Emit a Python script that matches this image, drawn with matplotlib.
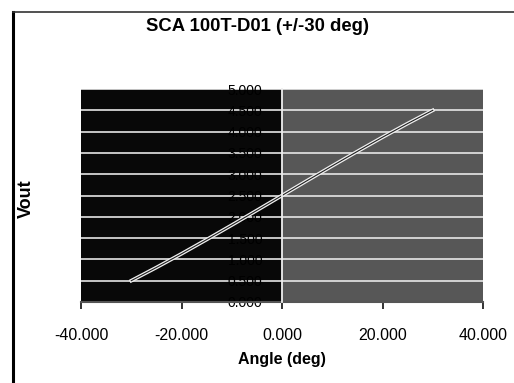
import matplotlib
matplotlib.use("Agg")
import matplotlib.pyplot as plt
import matplotlib.patheffects as pe
from matplotlib.lines import Line2D

plt.rcParams['font.family'] = ['Liberation Sans', 'DejaVu Sans']

# data
angle = [-30, -25, -20, -15, -10, -5, 0, 5, 10, 15, 20, 25, 30]
vout = [0.500, 0.810, 1.132, 1.465, 1.805, 2.151, 2.500, 2.849, 3.195, 3.535, 3.868, 4.190, 4.500]
xticks = [-40, -20, 0, 20, 40]
yticks = [0.0, 0.5, 1.0, 1.5, 2.0, 2.5, 3.0, 3.5, 4.0, 4.5, 5.0]

fig = plt.figure(figsize=(5.14, 3.83), dpi=100)
ax = fig.add_axes([0.1576, 0.2115, 0.7821, 0.5561])

# scanned background: left half nearly black, right half grey
ax.axvspan(-40, 0, color='#080808', zorder=0)
ax.axvspan(0, 40, color='#575757', zorder=0)

for y in yticks[1:]:
    ax.axhline(y, color='#e6e6e6', lw=1.2, zorder=1)

ax.plot(angle, vout, color='#f0f0f0', lw=2.6, zorder=3)
ax.plot(angle, vout, color='#202020', lw=0.8, zorder=4)

ax.set_xlim(-40, 40)
ax.set_ylim(0, 5)
ax.set_xticks(xticks)
ax.set_xticklabels(['%.3f' % v for v in xticks], fontsize=11.5)
ax.set_yticks(yticks)
ax.set_yticklabels(['%.3f' % v for v in yticks], fontsize=11.5)

for lab in ax.get_yticklabels():
    lab.set_path_effects([pe.withStroke(linewidth=2.5, foreground='white')])
    lab.set_zorder(6)

ax.spines['left'].set_position(('data', 0))
ax.spines['left'].set_color('#eeeeee')
ax.spines['left'].set_linewidth(1.3)
ax.spines['left'].set_zorder(5)
ax.spines['top'].set_visible(False)
ax.spines['right'].set_visible(False)
ax.spines['bottom'].set_color('#555555')
ax.spines['bottom'].set_linewidth(1.5)

ax.tick_params(axis='x', direction='out', length=5, width=1.3, pad=14, color='#222222')
ax.tick_params(axis='y', length=0, pad=14)

ax.set_xlabel('Angle (deg)', fontsize=11.5, fontweight='bold', labelpad=6)

fig.text(0.5, 0.932, 'SCA 100T-D01 (+/-30 deg)', ha='center', va='center',
         fontsize=13.3, fontweight='bold')
fig.text(0.051, 0.48, 'Vout', ha='center', va='center', rotation=90,
         fontsize=13, fontweight='bold')

# chart frame, cut off at right and bottom in the scan
fig.add_artist(Line2D([0.025, 0.025], [0.0, 0.968], transform=fig.transFigure,
                      color='black', lw=2.2))
fig.add_artist(Line2D([0.025, 1.0], [0.968, 0.968], transform=fig.transFigure,
                      color='#333333', lw=1.2))

fig.savefig('out.png', dpi=100)
